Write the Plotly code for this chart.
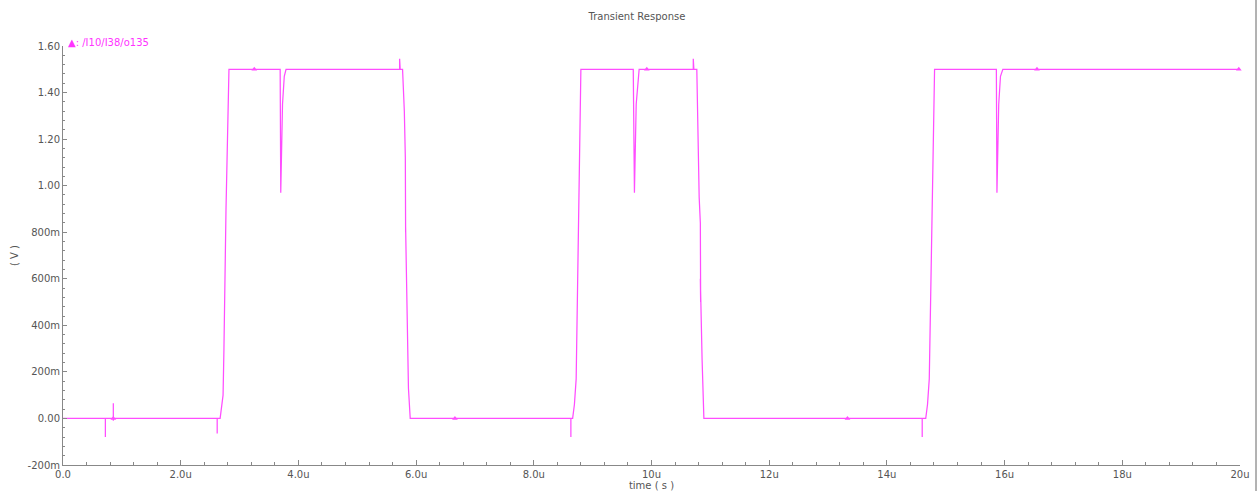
import plotly.graph_objects as go

# time in microseconds, voltage in volts
t_us = [0.0, 0.72, 0.72, 0.72, 0.72, 0.855, 0.855, 0.855, 0.855, 2.62, 2.62, 2.62, 2.62,
        2.67, 2.70, 2.72, 2.735, 2.77, 2.82,
        3.69, 3.70, 3.73, 3.76, 3.79,
        5.71, 5.72, 5.72, 5.73, 5.77, 5.80, 5.817, 5.822, 5.815, 5.822, 5.84, 5.87, 5.90,
        8.62, 8.63, 8.63, 8.63, 8.66, 8.69, 8.72, 8.76, 8.80,
        9.69, 9.71, 9.74, 9.77, 9.79,
        10.70, 10.71, 10.71, 10.72, 10.77, 10.79, 10.81, 10.83, 10.835, 10.83, 10.86, 10.89,
        14.59, 14.60, 14.60, 14.60, 14.66, 14.69, 14.72, 14.77, 14.81,
        15.86, 15.87, 15.90, 15.93, 15.97,
        20.0]
v = [0.0, 0.0, -0.08, 0.0, 0.0, 0.0, 0.065, -0.01, 0.0, 0.0, -0.065, 0.0, 0.0,
     0.0, 0.05, 0.10, 0.30, 0.90, 1.50,
     1.50, 0.97, 1.35, 1.47, 1.50,
     1.50, 1.50, 1.545, 1.50, 1.50, 1.32, 1.12, 0.80, 0.95, 0.82, 0.56, 0.13, 0.0,
     0.0, 0.0, -0.08, 0.0, 0.0, 0.06, 0.17, 0.90, 1.50,
     1.50, 0.97, 1.35, 1.47, 1.50,
     1.50, 1.50, 1.545, 1.50, 1.50, 1.20, 0.95, 0.84, 0.50, 0.60, 0.25, 0.0,
     0.0, 0.0, -0.08, 0.0, 0.0, 0.06, 0.17, 0.90, 1.50,
     1.50, 0.97, 1.35, 1.47, 1.50,
     1.50]

marker_t = [0.855, 3.25, 6.66, 9.92, 13.33, 16.55, 19.98]
marker_v = [0.0, 1.5, 0.0, 1.5, 0.0, 1.5, 1.5]

x_tickvals = [0, 2, 4, 6, 8, 10, 12, 14, 16, 18, 20]
x_ticktext = ["0.0", "2.0u", "4.0u", "6.0u", "8.0u", "10u", "12u", "14u", "16u", "18u", "20u"]
y_tickvals = [-0.2, 0.0, 0.2, 0.4, 0.6, 0.8, 1.0, 1.2, 1.4, 1.6]
y_ticktext = ["-200m", "0.00", "200m", "400m", "600m", "800m", "1.00", "1.20", "1.40", "1.60"]

LINE = "#ff4dff"
GRAY = "#555555"
AX = "#888888"

fig = go.Figure()
fig.add_trace(go.Scatter(x=t_us, y=v, mode="lines",
                         line=dict(color=LINE, width=1.25), showlegend=False,
                         hoverinfo="skip"))
fig.add_trace(go.Scatter(x=marker_t, y=marker_v, mode="markers",
                         marker=dict(symbol="triangle-up", size=5, color=LINE),
                         showlegend=False, hoverinfo="skip", cliponaxis=False))

fig.update_layout(
    width=1260, height=491,
    margin=dict(l=63, r=20, t=46, b=26),
    paper_bgcolor="white", plot_bgcolor="white",
    font=dict(family="DejaVu Sans", size=10, color=GRAY),
    title=dict(text="Transient Response", x=0.5055, xanchor="center", y=0.967,
               yanchor="middle", font=dict(size=10, color=GRAY)),
    xaxis=dict(range=[0, 20], tickvals=x_tickvals, ticktext=x_ticktext, automargin=False,
               showgrid=False, zeroline=False, showline=True, linecolor=AX, linewidth=1,
               ticks="inside", ticklen=5, tickcolor=AX,
               minor=dict(ticks="inside", dtick=0.4, ticklen=3, tickcolor=AX, showgrid=False),
               tickfont=dict(size=10, color=GRAY),
               title=dict(text="time ( s )", standoff=0, font=dict(size=10, color=GRAY))),
    yaxis=dict(range=[-0.2, 1.6], tickvals=y_tickvals, ticktext=y_ticktext, automargin=False,
               showgrid=False, zeroline=False, showline=True, linecolor=AX, linewidth=1,
               ticks="inside", ticklen=4, tickcolor=AX,
               minor=dict(ticks="inside", dtick=0.04, ticklen=2, tickcolor=AX, showgrid=False),
               tickfont=dict(size=10, color=GRAY),
               title=dict(text="( V )", standoff=7, font=dict(size=10, color=GRAY))),
)

fig.add_annotation(xref="paper", yref="paper", x=0, y=1, xanchor="left", yanchor="bottom",
                   xshift=3, yshift=-4, showarrow=False,
                   text="▲: /I10/I38/o135", font=dict(size=10, color="#ff33ff"))

fig.add_shape(type="line", xref="paper", yref="paper",
              x0=1.0136, x1=1.0136, y0=-0.062, y1=1.11,
              line=dict(color="#666666", width=1))

fig.write_html("out.html")
